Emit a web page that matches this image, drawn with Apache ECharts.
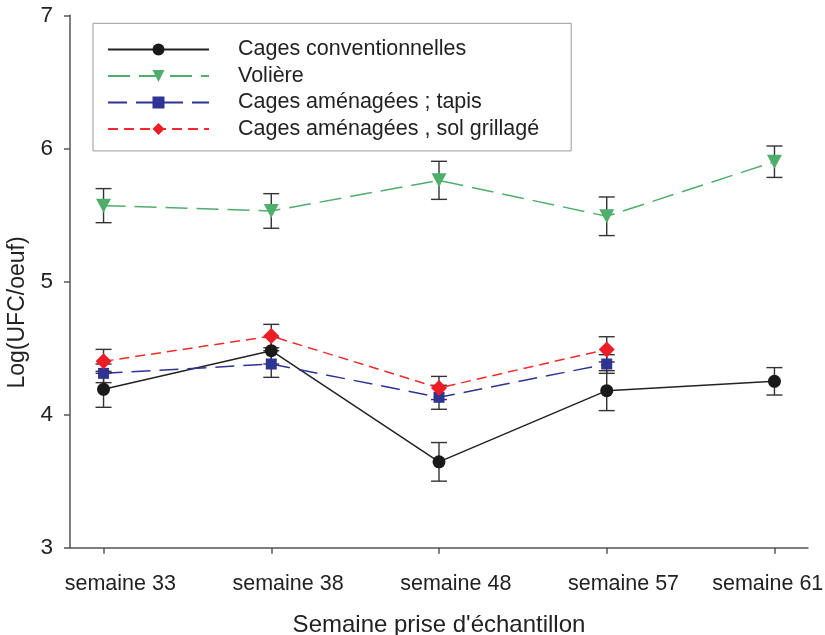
<!DOCTYPE html>
<html>
<head>
<meta charset="utf-8">
<script src="https://cdn.jsdelivr.net/npm/echarts@6/dist/echarts.min.js"></script>
<style>html,body{margin:0;padding:0;background:#fff}#c{width:825px;height:635px}</style>
</head>
<body>
<div id="c"></div>
<script>
var categories = ['semaine 33', 'semaine 38', 'semaine 48', 'semaine 57', 'semaine 61'];
var yTicks = [3, 4, 5, 6, 7];

var conventionnelles = [4.19, 4.48, 3.645, 4.18, 4.25];
var conventionnellesErr = [0.135, 0.10, 0.145, 0.15, 0.103];

var voliere = [5.57, 5.53, 5.76, 5.49, 5.90];
var voliereErr = [0.128, 0.13, 0.143, 0.145, 0.118];

var tapis = [4.31, 4.38, 4.13, 4.38];
var tapisErr = [0.07, 0.10, 0.09, 0.07];

var grillage = [4.40, 4.59, 4.20, 4.49];
var grillageErr = [0.09, 0.088, 0.087, 0.095];

var names = ['Cages conventionnelles', 'Volière', 'Cages aménagées ; tapis', 'Cages aménagées , sol grillagé'];

var FONT = '"Liberation Sans", Arial, Helvetica, sans-serif';

function pts(arr) { return arr.map(function (v, i) { return [i, v]; }); }
function errPts(arr, err) { return arr.map(function (v, i) { return [i, v - err[i], v + err[i]]; }); }

function errSeries(name, arr, err) {
  return {
    type: 'custom',
    name: name + ' err',
    z: 1,
    silent: true,
    data: errPts(arr, err),
    renderItem: function (params, api) {
      var lo = api.coord([api.value(0), api.value(1)]);
      var hi = api.coord([api.value(0), api.value(2)]);
      var hw = 8;
      var st = { stroke: '#333', lineWidth: 1.4 };
      return {
        type: 'group',
        children: [
          { type: 'line', shape: { x1: lo[0], y1: lo[1], x2: hi[0], y2: hi[1] }, style: st },
          { type: 'line', shape: { x1: lo[0] - hw, y1: lo[1], x2: lo[0] + hw, y2: lo[1] }, style: st },
          { type: 'line', shape: { x1: hi[0] - hw, y1: hi[1], x2: hi[0] + hw, y2: hi[1] }, style: st }
        ]
      };
    }
  };
}

var chart = echarts.init(document.getElementById('c'), null, { renderer: 'canvas' });
chart.setOption({
  backgroundColor: '#fff',
  animation: false,
  textStyle: { fontFamily: FONT },
  grid: { left: 70, right: 17, top: 15.3, bottom: 87.3, containLabel: false, outerBoundsMode: 'none' },
  legend: {
    orient: 'vertical',
    left: 93,
    top: 23.3,
    data: names,
    itemWidth: 101,
    itemHeight: 15,
    itemGap: 2.5,
    padding: [14.2, 32, 9.9, 14],
    borderColor: '#999',
    borderWidth: 1,
    textStyle: { fontSize: 21.5, color: '#222', fontFamily: FONT, lineHeight: 24, padding: [0, 0, 0, 24] }
  },
  xAxis: {
    type: 'value',
    min: -0.2,
    max: 4.2,
    splitLine: { show: false },
    axisLine: { show: true, onZero: false, lineStyle: { color: '#555', width: 1.5 } },
    axisTick: { show: true, length: 6, customValues: [0, 1, 2, 3, 4], lineStyle: { color: '#555', width: 1.5 } },
    axisLabel: {
      customValues: [0.1, 1.1, 2.1, 3.1, 3.96],
      formatter: function (v) { return categories[Math.round(v)]; },
      fontSize: 21.5, color: '#222', margin: 25, fontFamily: FONT
    },
    name: "Semaine prise d'échantillon",
    nameLocation: 'middle',
    nameGap: 66,
    nameTextStyle: { fontSize: 24, color: '#222', fontFamily: FONT }
  },
  yAxis: {
    type: 'value',
    min: 3,
    max: 7,
    interval: 1,
    splitLine: { show: false },
    axisLine: { show: true, onZero: false, lineStyle: { color: '#555', width: 1.5 } },
    axisTick: { show: true, length: 6, lineStyle: { color: '#555', width: 1.5 } },
    axisLabel: { fontSize: 22.5, color: '#222', margin: 17, fontFamily: FONT,
      formatter: function (v) { return yTicks.indexOf(v) >= 0 ? String(v) : ''; } },
    name: 'Log(UFC/oeuf)',
    nameLocation: 'middle',
    nameGap: 34,
    nameTextStyle: { fontSize: 23, color: '#222', fontFamily: FONT, padding: [0, 62, 0, 0] }
  },
  series: [
    errSeries(names[0], conventionnelles, conventionnellesErr),
    errSeries(names[1], voliere, voliereErr),
    errSeries(names[2], tapis, tapisErr),
    errSeries(names[3], grillage, grillageErr),
    {
      type: 'line', name: names[0], z: 3, data: pts(conventionnelles),
      symbol: 'circle', symbolSize: 13,
      lineStyle: { color: '#222', width: 1.5, type: 'solid' },
      itemStyle: { color: '#1a1a1a' }
    },
    {
      type: 'line', name: names[1], z: 3, data: pts(voliere),
      symbol: 'triangle', symbolRotate: 180, symbolSize: [15, 14],
      lineStyle: { color: '#4fae6c', width: 1.5, type: [22, 9] },
      itemStyle: { color: '#4fae6c' }
    },
    {
      type: 'line', name: names[2], z: 4, data: pts(tapis),
      symbol: 'rect', symbolSize: 11,
      lineStyle: { color: '#2d3494', width: 1.5, type: [19, 9] },
      itemStyle: { color: '#2d3494' }
    },
    {
      type: 'line', name: names[3], z: 5, data: pts(grillage),
      symbol: 'diamond', symbolSize: [16, 16],
      lineStyle: { color: '#ee2a2a', width: 1.5, type: [10, 6] },
      itemStyle: { color: '#ee1c24' }
    }
  ]
});
</script>
</body>
</html>
